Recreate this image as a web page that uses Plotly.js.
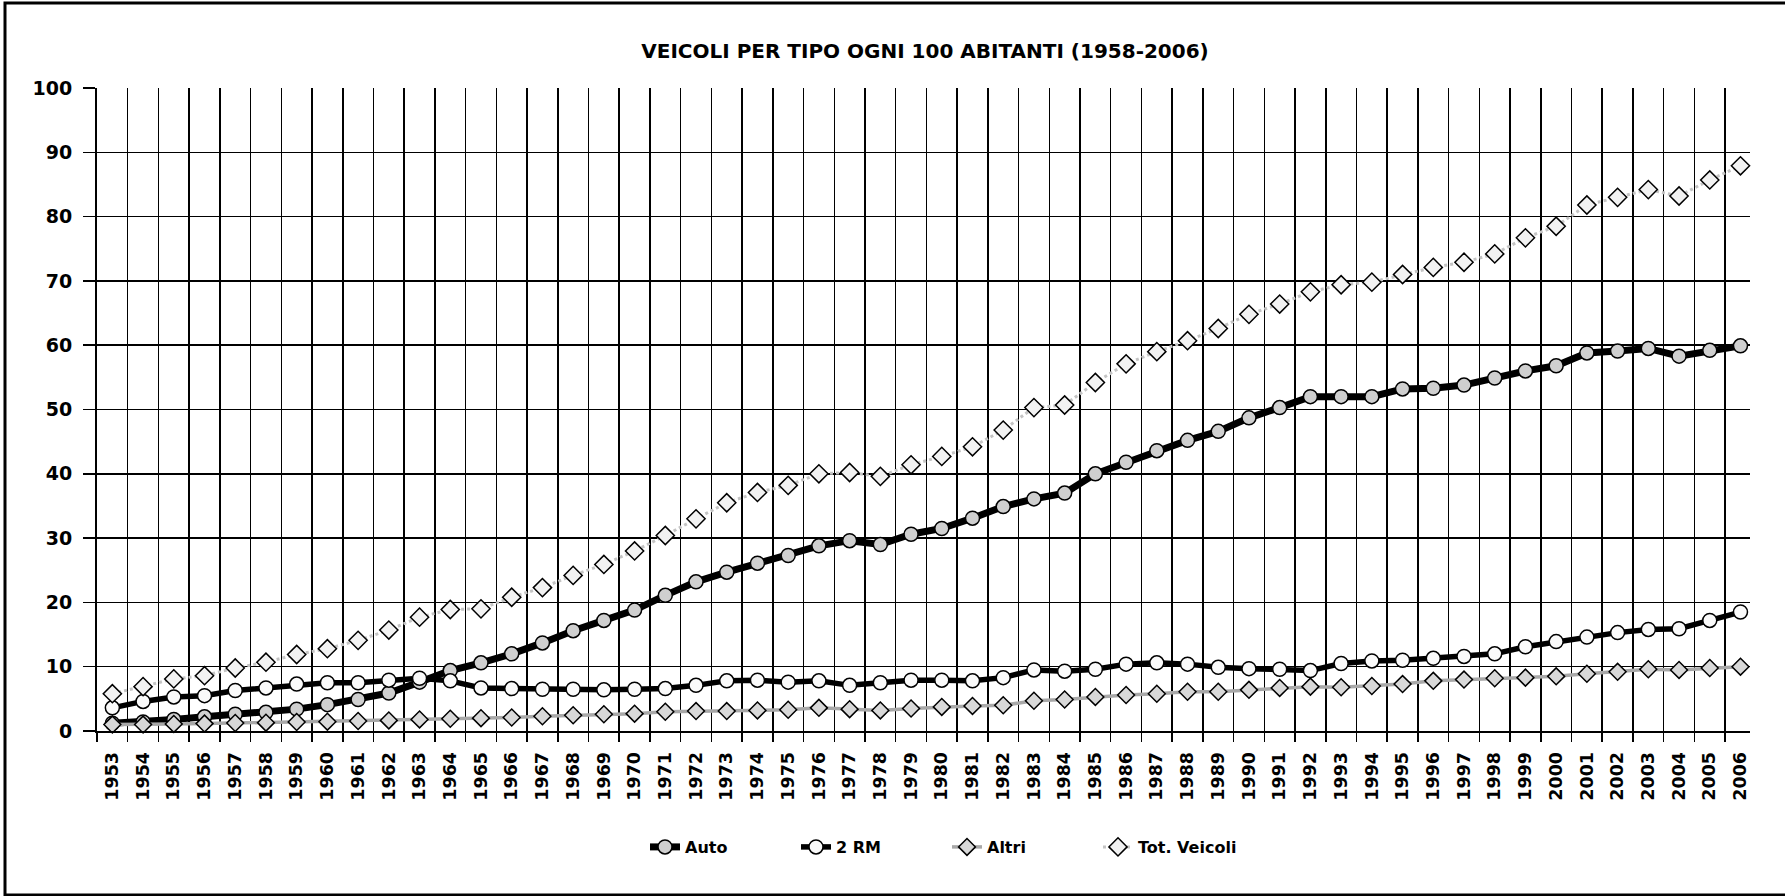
<!DOCTYPE html>
<html>
<head>
<meta charset="utf-8">
<script src="https://cdn.plot.ly/plotly-3.0.1.min.js"></script>
<style>html,body{margin:0;padding:0;background:#fff;}#chart{width:1785px;height:896px;}</style>
</head>
<body>
<div id="chart"></div>
<script>
const years = ['1953','1954','1955','1956','1957','1958','1959','1960','1961','1962',
  '1963','1964','1965','1966','1967','1968','1969','1970','1971','1972',
  '1973','1974','1975','1976','1977','1978','1979','1980','1981','1982',
  '1983','1984','1985','1986','1987','1988','1989','1990','1991','1992',
  '1993','1994','1995','1996','1997','1998','1999','2000','2001','2002',
  '2003','2004','2005','2006'];

const auto = [1.2,1.4,1.8,2.2,2.6,2.9,3.4,4.1,4.9,5.9,
  7.6,9.4,10.6,12.0,13.7,15.6,17.2,18.8,21.1,23.2,
  24.7,26.1,27.3,28.8,29.6,29.0,30.6,31.5,33.1,34.9,
  36.1,37.0,40.0,41.8,43.6,45.2,46.6,48.7,50.3,52.0,
  52.0,52.0,53.2,53.3,53.8,54.9,56.0,56.8,58.8,59.1,
  59.5,58.3,59.2,59.9];

const rm2 = [3.6,4.6,5.3,5.5,6.3,6.7,7.3,7.5,7.5,7.9,
  8.2,7.8,6.7,6.6,6.5,6.5,6.4,6.5,6.6,7.1,
  7.8,7.9,7.6,7.8,7.1,7.5,7.9,7.9,7.8,8.3,
  9.5,9.3,9.6,10.4,10.6,10.4,9.9,9.7,9.6,9.4,
  10.5,10.9,11.0,11.3,11.6,12.0,13.1,13.9,14.6,15.3,
  15.8,15.9,17.2,18.5];

const altri = [1.0,1.0,1.1,1.15,1.25,1.3,1.4,1.45,1.55,1.65,
  1.8,1.9,2.0,2.1,2.3,2.45,2.6,2.7,3.0,3.1,
  3.1,3.2,3.3,3.6,3.4,3.2,3.5,3.75,3.9,4.0,
  4.7,4.9,5.3,5.6,5.8,6.1,6.1,6.4,6.7,6.9,
  6.8,7.0,7.3,7.8,8.0,8.2,8.3,8.5,8.9,9.2,
  9.6,9.5,9.8,10.0];

const tot = [5.8,6.9,8.1,8.6,9.8,10.7,11.9,12.8,14.1,15.7,
  17.7,18.9,19.0,20.8,22.3,24.2,25.9,28.0,30.4,33.0,
  35.5,37.1,38.2,40.0,40.2,39.6,41.4,42.7,44.2,46.8,
  50.3,50.7,54.2,57.1,59.0,60.7,62.6,64.8,66.4,68.3,
  69.4,69.8,71.0,72.1,72.9,74.2,76.7,78.5,81.8,83.0,
  84.2,83.2,85.7,87.9];

const seriesNames = ['Auto','2 RM','Altri','Tot. Veicoli'];
const yTicks = [0,10,20,30,40,50,60,70,80,90,100];

const FONT = 'DejaVu Sans, Arial, sans-serif';

const traces = [
  {
    x: years, y: auto, name: seriesNames[0], type: 'scatter', mode: 'lines+markers',
    line: {color: '#000', width: 7},
    marker: {symbol: 'circle', size: 14, color: '#cfcfcf', line: {color: '#000', width: 1.5}},
    cliponaxis: false
  },
  {
    x: years, y: rm2, name: seriesNames[1], type: 'scatter', mode: 'lines+markers',
    line: {color: '#000', width: 5.5},
    marker: {symbol: 'circle', size: 14, color: '#fafafa', line: {color: '#000', width: 1.5}},
    cliponaxis: false
  },
  {
    x: years, y: altri, name: seriesNames[2], type: 'scatter', mode: 'lines+markers',
    line: {color: '#a8a8a8', width: 3.5},
    marker: {symbol: 'diamond', size: 13, color: '#d8d8d8', line: {color: '#000', width: 1.5}},
    cliponaxis: false
  },
  {
    x: years, y: tot, name: seriesNames[3], type: 'scatter', mode: 'lines+markers',
    line: {color: '#c4c4c4', width: 3, dash: 'dot'},
    marker: {symbol: 'diamond', size: 14, color: '#f2f2f2', line: {color: '#000', width: 1.5}},
    cliponaxis: false
  }
];

const L = 97, R = 1750, T = 88, B = 731;
const pw = R - L, ph = B - T;
const px = v => (v - L) / pw;
const py = v => (B - v) / ph;

const layout = {
  width: 1785, height: 896,
  margin: {l: L, r: 1785 - R, t: T, b: 896 - B, pad: 0},
  paper_bgcolor: '#fff', plot_bgcolor: '#fff',
  font: {family: FONT, color: '#000', size: 16},
  title: {
    text: '<b>VEICOLI PER TIPO OGNI 100 ABITANTI (1958-2006)</b>',
    font: {family: FONT, size: 20, color: '#000'},
    x: 925 / 1785, xref: 'container', xanchor: 'center',
    y: 1 - 51 / 896, yref: 'container', yanchor: 'middle'
  },
  showlegend: true,
  legend: {
    orientation: 'h', x: px(645), y: py(847), xanchor: 'left', yanchor: 'middle',
    font: {family: FONT, size: 16, color: '#000', weight: 'bold'},
    itemwidth: 30, entrywidth: 106, entrywidthmode: 'pixels',
    bgcolor: 'rgba(0,0,0,0)', traceorder: 'normal'
  },
  xaxis: {
    type: 'category', tickson: 'boundaries',
    range: [-0.5, 53.31],
    showgrid: true, gridcolor: '#000', gridwidth: 1.5,
    showline: true, linecolor: '#000', linewidth: 2,
    ticks: 'outside', ticklen: 9, tickwidth: 1.5, tickcolor: '#000',
    tickangle: -90, ticklabelstandoff: 12,
    tickfont: {family: FONT, size: 17.5, color: '#000', weight: 'bold'},
    zeroline: false, fixedrange: true
  },
  yaxis: {
    range: [0, 100], tickvals: yTicks, ticktext: yTicks.map(String),
    showgrid: true, gridcolor: '#000', gridwidth: 1.5,
    showline: true, linecolor: '#000', linewidth: 2,
    ticks: 'outside', ticklen: 12, tickwidth: 1.5, tickcolor: '#000',
    ticklabelstandoff: 7,
    tickfont: {family: FONT, size: 19, color: '#000', weight: 'bold'},
    zeroline: false, fixedrange: true
  },
  shapes: [{
    type: 'rect', xref: 'paper', yref: 'paper',
    x0: px(5), x1: px(1800), y0: py(895), y1: py(3),
    line: {color: '#000', width: 3}, fillcolor: 'rgba(0,0,0,0)', layer: 'above'
  }]
};

Plotly.newPlot('chart', traces, layout, {displayModeBar: false, staticPlot: true});
</script>
</body>
</html>
